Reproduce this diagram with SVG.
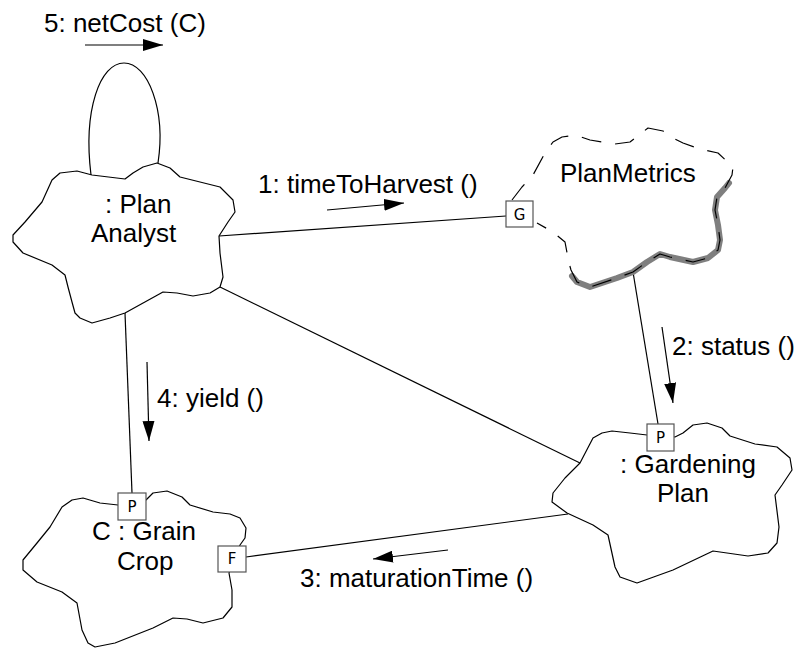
<svg xmlns="http://www.w3.org/2000/svg" width="797" height="648" viewBox="0 0 797 648">
<style>
.cloud{fill:#fff;stroke:#000;stroke-width:1.2;stroke-linejoin:round}
.dash{fill:none;stroke:#000;stroke-width:1.2;stroke-dasharray:20 14;stroke-linejoin:round}
.shade{fill:none;stroke:#7f7f7f;stroke-width:6;stroke-linejoin:round;stroke-linecap:round}
.link{fill:none;stroke:#000;stroke-width:1.2}
.msg{fill:none;stroke:#000;stroke-width:1.2;marker-end:url(#ah)}
.port{fill:#fff;stroke:#555;stroke-width:1.2}
.lbl{font-family:"Liberation Sans",Arial,sans-serif;font-size:26px;fill:#000}
.pl{font-family:"DejaVu Sans",Verdana,sans-serif;font-size:15px;fill:#000;text-anchor:middle;dominant-baseline:central}
</style>
<defs>
<marker id="ah" markerWidth="20" markerHeight="12" refX="20" refY="6" orient="auto" markerUnits="userSpaceOnUse">
<path d="M0,0 L20,6 L0,12 z" fill="#000"/>
</marker>
</defs>

<g id="connectors">
<path class="link" d="M91,175 C83,110 100,63 124,63 C148,63 166,110 158,163"/>
<line class="link" x1="219" y1="236" x2="506" y2="216"/>
<line class="link" x1="220" y1="287" x2="580" y2="463"/>
<line class="link" x1="125" y1="313" x2="132" y2="493"/>
<line class="link" x1="633" y1="272" x2="658" y2="424"/>
<line class="link" x1="246" y1="557" x2="568" y2="514"/>
</g>

<g id="messages">
<line class="msg" x1="85" y1="45" x2="163" y2="45"/>
<text class="lbl" x="44" y="32">5: netCost (C)</text>
<line class="msg" x1="327" y1="210" x2="404" y2="203"/>
<text class="lbl" x="258" y="193">1: timeToHarvest ()</text>
<line class="msg" x1="662" y1="327" x2="673" y2="403"/>
<text class="lbl" x="672" y="355">2: status ()</text>
<line class="msg" x1="448" y1="550" x2="373" y2="559"/>
<text class="lbl" x="300" y="587">3: maturationTime ()</text>
<line class="msg" x1="147" y1="362" x2="149" y2="441"/>
<text class="lbl" x="157" y="407">4: yield ()</text>
</g>

<g id="plan-analyst">
<path class="cloud" d="M13,235 L13,242 L23,253 L52,265 L65,275 L68,287 L72,302 L75,313 L80,318 L92,323 L110,318 L125,313 L163,292 L177,293 L193,296 L210,293 L220,287 L223,277 L220,253 L219,236 L228,222 L235,212 L233,200 L220,187 L180,177 L170,168 L157,163 L143,167 L133,173 L125,179 L92,175 L77,171 L60,173 L52,180 L42,202 L25,222 Z"/>
<text class="lbl" x="105" y="213">: Plan</text>
<text class="lbl" x="91" y="242">Analyst</text>
</g>

<g id="plan-metrics">
<path class="shade" d="M729,183 L725,188 L717,197 L715,210 L718,225 L720,240 L718,250 L708,258 L693,262 L670,257 L660,254 L647,262 L633,272 L617,278 L590,287 L577,282 L572,276"/>
<path class="dash" d="M512,200 L522,187 L533,175 L545,153 L553,142 L562,137 L575,135 L590,140 L615,144 L630,142 L648,128 L663,131 L673,138 L683,143 L700,149 L718,153 L733,167 L732,175 L725,188 L717,197 L715,210 L718,225 L720,240 L718,250 L708,258 L693,262 L670,257 L660,254 L647,262 L633,272 L617,278 L590,287 L577,282 L571,270 L569,263 L565,242 L553,232 L537,223"/>
<text class="lbl" x="560" y="182">PlanMetrics</text>
<rect class="port" x="506" y="201" width="27" height="26"/>
<text class="pl" x="519.5" y="214.5">G</text>
</g>

<g id="gardening-plan">
<path class="cloud" d="M647,435 L630,433 L612,431 L602,433 L593,438 L580,463 L565,478 L553,493 L552,502 L567,513 L593,525 L608,535 L615,567 L620,577 L637,583 L673,570 L713,551 L727,553 L748,556 L768,553 L777,543 L779,527 L775,495 L782,485 L792,470 L790,458 L777,447 L755,444 L730,436 L722,428 L707,423 L693,425 L683,433 L675,437 Z"/>
<rect class="port" x="647" y="424" width="27" height="27"/>
<text class="pl" x="660.5" y="438">P</text>
<text class="lbl" x="620" y="473">: Gardening</text>
<text class="lbl" x="657" y="502">Plan</text>
</g>

<g id="grain-crop">
<path class="cloud" d="M118,505 L100,503 L83,498 L72,500 L62,507 L50,527 L37,543 L23,560 L23,570 L37,582 L62,592 L77,603 L82,630 L88,643 L95,647 L115,643 L153,628 L173,618 L187,619 L203,623 L223,618 L232,607 L232,590 L229,573 L240,545 L245,538 L246,528 L240,518 L230,514 L213,512 L190,505 L182,497 L167,491 L153,493 L146,500 Z"/>
<rect class="port" x="118" y="493" width="28" height="27"/>
<text class="pl" x="132" y="507">P</text>
<rect class="port" x="218" y="546" width="28" height="26"/>
<text class="pl" x="232" y="559">F</text>
<text class="lbl" x="92" y="540">C : Grain</text>
<text class="lbl" x="117" y="570">Crop</text>
</g>
</svg>
